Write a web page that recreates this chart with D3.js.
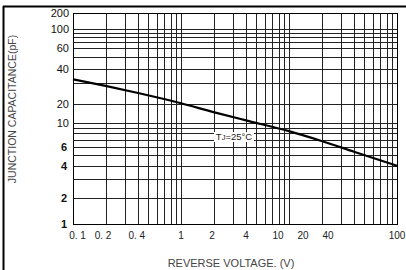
<!DOCTYPE html>
<html>
<head>
<meta charset="utf-8">
<script src="https://cdn.jsdelivr.net/npm/d3@7"></script>
<style>
  html, body { margin: 0; padding: 0; background: #fff; }
  svg text { font-family: "Liberation Sans", Arial, sans-serif; }
</style>
</head>
<body>
<svg id="chart" width="406" height="270"></svg>
<script>
// curve (Tj = 25°C)
const voltage = [0.1, 0.2, 0.4, 1, 2, 4, 10, 20, 40, 100];
const capacitance = [32.5, 28.5, 24.8, 20.3, 14.9, 11.0, 8.4, 6.8, 5.4, 4.0];

// tick labels
const yTicks = [1, 2, 4, 6, 10, 20, 40, 60, 100, 200];
const yBold = [1, 2, 4, 6];
const xTickText = ["0. 1", "0. 2", "0. 4", "1", "2", "4", "10", "20", "40", "100"];
// where the printed labels actually sit (in volts) - the original is offset for 10/20/40
const xTickAt = [0.11, 0.19, 0.39, 1, 1.94, 4, 7.9, 13.5, 23, 100];

// grid lines
const yGrid = [1, 2, 3, 4, 5, 6, 7, 8, 9, 10, 20, 30, 40, 50, 60, 70, 80, 90, 100, 200];
const xGrid = [0.1, 0.2, 0.3, 0.4, 0.5, 0.6, 0.7, 0.8, 0.9,
  1, 2, 3, 4, 5, 6, 7, 8, 9, 10, 20, 30, 40, 50, 60, 70, 80, 90, 100];

const svg = d3.select("#chart");

const pl = 73, pr = 397, pt = 13, pb = 224;

const x = d3.scaleLog().domain([0.1, 100]).range([pl, pr]);
// the printed y axis is not a clean log scale, so it's piecewise
const y = d3.scaleLog()
  .domain([1, 2, 10, 20, 60, 100, 200])
  .range([224, 198, 123, 104, 48, 29, 13]);

// outer frame (left + top edge of the datasheet box)
svg.append("line").attr("x1", 3.5).attr("x2", 3.5).attr("y1", 6).attr("y2", 270)
  .attr("stroke", "#000").attr("stroke-width", 2);
svg.append("line").attr("x1", 3).attr("x2", 406).attr("y1", 6.5).attr("y2", 6.5)
  .attr("stroke", "#000").attr("stroke-width", 2);

// grid
const grid = svg.append("g");
grid.selectAll(".gy").data(yGrid).enter().append("line")
  .attr("x1", pl).attr("x2", pr)
  .attr("y1", d => Math.round(y(d)) + 0.5).attr("y2", d => Math.round(y(d)) + 0.5)
  .attr("stroke", "#222").attr("stroke-width", 1);
grid.selectAll(".gx").data(xGrid).enter().append("line")
  .attr("y1", pt).attr("y2", pb)
  .attr("x1", d => Math.round(x(d)) + 0.5).attr("x2", d => Math.round(x(d)) + 0.5)
  .attr("stroke", "#222").attr("stroke-width", 1);

svg.append("rect")
  .attr("x", pl + 0.5).attr("y", pt + 0.5)
  .attr("width", pr - pl).attr("height", pb - pt)
  .attr("fill", "none").attr("stroke", "#000").attr("stroke-width", 1);

// y tick labels
svg.selectAll(".yl").data(yTicks).enter().append("text")
  .attr("x", d => yBold.includes(d) ? 67 : 69)
  .attr("y", d => y(d))
  .attr("dy", "0.35em")
  .attr("text-anchor", "end")
  .attr("font-size", 11)
  .attr("font-weight", d => yBold.includes(d) ? "bold" : "normal")
  .attr("fill", "#111")
  .text(d => d);

// x tick labels
svg.selectAll(".xl").data(xTickText).enter().append("text")
  .attr("x", (d, i) => x(xTickAt[i]))
  .attr("y", 239)
  .attr("text-anchor", "middle")
  .attr("font-size", 10)
  .attr("fill", "#222")
  .text(d => d);

// the curve
const line = d3.line()
  .x((d, i) => x(voltage[i]))
  .y(d => y(d))
  .curve(d3.curveMonotoneX);

svg.append("path")
  .datum(capacitance)
  .attr("fill", "none")
  .attr("stroke", "#000")
  .attr("stroke-width", 2.2)
  .attr("d", line);

// Tj label with white box behind it
const lab = svg.append("g").attr("transform", "translate(234,137)");
lab.append("rect").attr("x", -20).attr("y", -5).attr("width", 40).attr("height", 10).attr("fill", "#fff");
const lt = lab.append("text")
  .attr("text-anchor", "middle").attr("dy", "0.35em")
  .attr("font-size", 9.5).attr("fill", "#222");
lt.append("tspan").text("T");
lt.append("tspan").attr("font-size", 7.5).text("J");
lt.append("tspan").text("=25°C");

// axis titles
svg.append("text")
  .attr("transform", "translate(16,109) rotate(-90)")
  .attr("text-anchor", "middle")
  .attr("font-size", 10.5)
  .attr("fill", "#444")
  .text("JUNCTION CAPACITANCE(pF)");

svg.append("text")
  .attr("x", 231).attr("y", 267)
  .attr("text-anchor", "middle")
  .attr("font-size", 11)
  .attr("fill", "#444")
  .text("REVERSE VOLTAGE. (V)");
</script>
</body>
</html>
